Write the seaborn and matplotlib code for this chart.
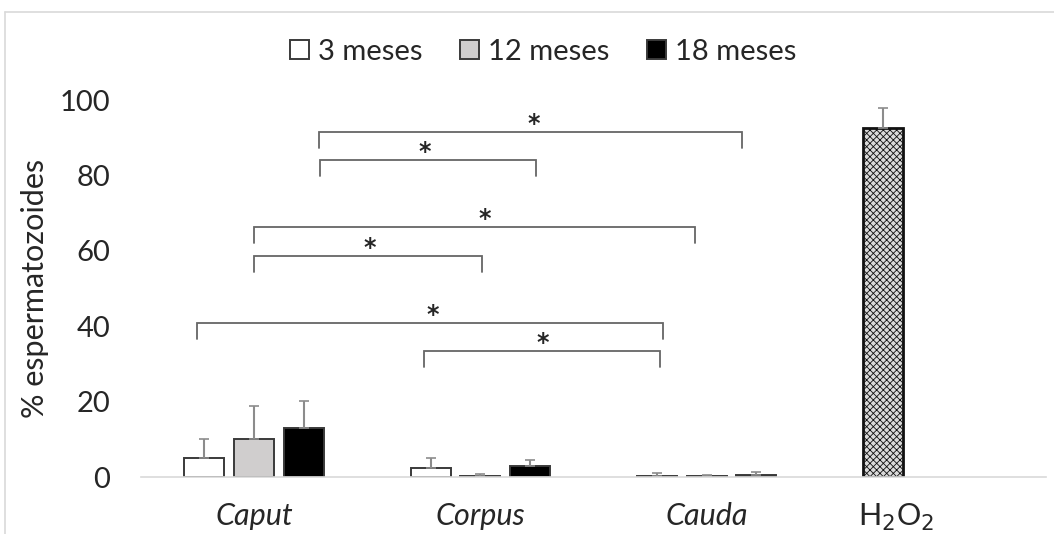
import pandas as pd
import matplotlib.pyplot as plt
import seaborn as sns

# data
regions = ['Caput', 'Corpus', 'Cauda', 'H2O2']
tick_labels = ['Caput', 'Corpus', 'Cauda', 'H$_2$O$_2$']
groups = ['3 meses', '12 meses', '18 meses']

mean_3 = [5.0, 2.5, 0.3, 92.5]
sd_3 = [5.0, 2.6, 0.7, 5.5]
mean_12 = [10.0, 0.4, 0.3]
sd_12 = [8.8, 0.5, 0.15]
mean_18 = [13.0, 3.0, 0.5]
sd_18 = [7.2, 1.5, 0.75]

# significance brackets: (x start, x end, height), in category units
brackets = [(0.288, 2.155, 91.5), (0.292, 1.248, 84.1),
            (0.0, 1.947, 66.3), (0.0, 1.009, 58.6),
            (-0.252, 1.805, 40.8), (0.752, 1.792, 33.4)]
star_x = [1.235, 0.752, 1.018, 0.513, 0.788, 1.274]

rows = []
for g, means, sds in [(groups[0], mean_3, sd_3), (groups[1], mean_12, sd_12),
                      (groups[2], mean_18, sd_18)]:
    for r, m, s in zip(regions, means, sds):
        rows.append({'region': r, 'grupo': g, 'valor': m, 'sd': s})
df = pd.DataFrame(rows)

sns.set_style('white')
plt.rcParams['font.family'] = ['Lato', 'DejaVu Sans']
plt.rcParams['hatch.linewidth'] = 0.6

fig = plt.figure(figsize=(10.54, 5.34), dpi=100)
ax = fig.add_axes([0.1338, 0.1067, 0.8586, 0.706])

colors = {'3 meses': '#ffffff', '12 meses': '#d0cece', '18 meses': '#000000'}
sns.barplot(data=df, x='region', y='valor', hue='grupo', order=regions,
            hue_order=groups, palette=colors, errorbar=None, width=0.66,
            gap=0.2, edgecolor='#3a3a3a', linewidth=1.4, ax=ax)

# error bars (upper only) and H2O2 bar styling
for cont, g in zip(ax.containers, groups):
    sub = df[df['grupo'] == g].set_index('region')
    for bar in cont:
        xc = bar.get_x() + bar.get_width() / 2
        reg = regions[int(round(xc))]
        h = sub.loc[reg, 'valor']
        s = sub.loc[reg, 'sd']
        ax.errorbar(xc, h, yerr=[[0], [s]], color='#8c8c8c', lw=1.5,
                    capsize=3.6, capthick=1.2, zorder=1)
        if reg == 'H2O2':
            bar.set_facecolor('#d9d9d9')
            bar.set_hatch('xxxxx')
            bar.set_edgecolor('#111111')
            bar.set_linewidth(2)

# brackets and stars
for (x0, x1, y), sx in zip(brackets, star_x):
    ax.plot([x0, x0, x1, x1], [y - 4.2, y, y, y - 4.2], color='#666666',
            lw=1.3, solid_joinstyle='miter')
    ax.text(sx, y + 0.3, '*', ha='center', va='baseline', fontsize=17,
            fontweight='bold', family='DejaVu Sans')

ax.set_ylim(0, 100)
ax.set_xlim(-0.5, 3.5)
ax.set_yticks([0, 20, 40, 60, 80, 100])
ax.tick_params(axis='y', labelsize=21, length=0, pad=22)
# the H2O2 label sits left of its category centre in the reference
ax.set_xticks([0, 1, 2, 2.836])
ax.set_xticklabels(tick_labels, fontsize=22)
for lbl in ax.get_xticklabels()[:3]:
    lbl.set_style('italic')
ax.tick_params(axis='x', length=0, pad=18)
ax.set_xticks([-0.5, 0.5, 1.5, 2.5, 3.5], minor=True)
ax.tick_params(axis='x', which='minor', length=8, color='#d9d9d9', width=1)
ax.set_xlabel('')
ax.set_ylabel('% espermatozoides', fontsize=22, labelpad=8)

for side in ['top', 'right', 'left']:
    ax.spines[side].set_visible(False)
ax.spines['bottom'].set_color('#d9d9d9')
ax.spines['bottom'].set_linewidth(1.2)

h, l = ax.get_legend_handles_labels()
if ax.get_legend() is not None:
    ax.get_legend().remove()
fig.legend(h, l, loc='center', bbox_to_anchor=(543 / 1054, 1 - 52 / 534),
           ncol=3, frameon=False, fontsize=21, handlelength=0.65,
           handleheight=0.65, handletextpad=0.3, columnspacing=1.3)

# chart area border
fig.add_artist(plt.Line2D([5 / 1054, 5 / 1054], [0, 1 - 12 / 534],
                          color='#d9d9d9', lw=1.2))
fig.add_artist(plt.Line2D([5 / 1054, 1], [1 - 12 / 534, 1 - 12 / 534],
                          color='#d9d9d9', lw=1.2))

fig.savefig('out.png', dpi=100)
